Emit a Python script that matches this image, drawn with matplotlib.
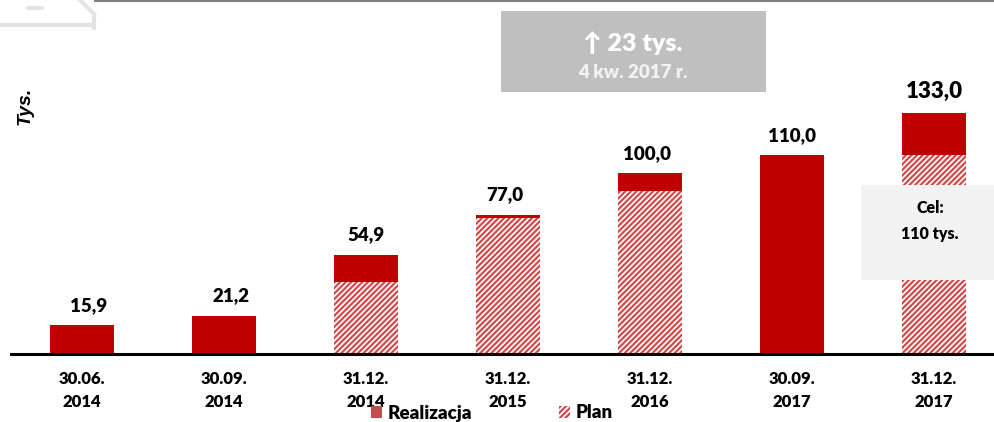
import matplotlib
matplotlib.use('Agg')
import matplotlib.pyplot as plt
from matplotlib.patches import Patch, Rectangle
from matplotlib.lines import Line2D

plt.rcParams['font.family'] = ['Lato', 'DejaVu Sans']
plt.rcParams['hatch.linewidth'] = 1.6

# data
dates = ['30.06.\n2014', '30.09.\n2014', '31.12.\n2014', '31.12.\n2015',
         '31.12.\n2016', '30.09.\n2017', '31.12.\n2017']
totals = [15.9, 21.2, 54.9, 77.0, 100.0, 110.0, 133.0]
plan = [0, 0, 40, 75, 90, 0, 110]
realizacja = [t - p for t, p in zip(totals, plan)]
labels = ['15,9', '21,2', '54,9', '77,0', '100,0', '110,0', '133,0']

red = '#C00000'
hatch_col = '#D24A4A'
BW = 'heavy'  # heavier weight, closer to the original look

fig = plt.figure(figsize=(9.95, 4.22), dpi=100)
W, H = 995, 422
ax = fig.add_axes([11 / W, 68 / H, 994 / W, 271.4 / H])

x = list(range(len(dates)))
ax.bar(x, plan, width=0.45, color='white', edgecolor=hatch_col, hatch='//////', linewidth=0)
ax.bar(x, realizacja, width=0.45, bottom=plan, color=red, linewidth=0)

for i, (t, lab) in enumerate(zip(totals, labels)):
    fs = 16 if i == len(totals) - 1 else 13.5
    dx = 5 if i < 2 else (-2 if i in (3, 4) else 0)
    ax.annotate(lab, (i, t), xytext=(dx, 8), textcoords='offset points',
                ha='center', va='bottom', fontsize=fs, fontweight=BW)

ax.set_xlim(-0.5, 6.5)
ax.set_ylim(0, 150)
ax.set_xticks(x)
ax.set_xticklabels(dates, fontsize=12, fontweight=BW, linespacing=1.6)
ax.tick_params(axis='x', length=0, pad=12)
ax.set_yticks([])
for s in ['top', 'right', 'left']:
    ax.spines[s].set_visible(False)
ax.spines['bottom'].set_linewidth(2.2)
ax.spines['bottom'].set_color('black')

# y label
fig.text(25 / W, 1 - 106 / H, 'Tys.', rotation=90, fontsize=14, fontweight='bold',
         fontstyle='italic', ha='center', va='center', family=['Liberation Sans'])

# grey info box
fig.patches.append(Rectangle((501 / W, 1 - 92 / H), 265 / W, 81 / H, transform=fig.transFigure,
                             facecolor='#BFBFBF', edgecolor='none'))
fig.text(633 / W, 1 - 43 / H, '\u2191 23 tys.', fontsize=18, fontweight=BW, color='white',
         ha='center', va='center', family=['Lato', 'DejaVu Sans'])
fig.text(633 / W, 1 - 72 / H, '4 kw. 2017 r.', fontsize=13.5, fontweight=BW, color='#F2F2F2',
         ha='center', va='center')

# target box
fig.patches.append(Rectangle((861 / W, 1 - 280 / H), 134 / W, 95 / H, transform=fig.transFigure,
                             facecolor='#F2F2F2', edgecolor='none', zorder=5))
fig.text(930 / W, 1 - 221 / H, 'Cel:\n110 tys.', fontsize=11.5, fontweight=BW,
         ha='center', va='center', linespacing=1.7, zorder=6)

# top decoration
fig.add_artist(Line2D([95 / W, 1], [1 - 1 / H, 1 - 1 / H], color='#7F7F7F', lw=1.5))
fig.add_artist(Line2D([0, 90 / W], [1 - 25 / H, 1 - 25 / H], color='#E3E3E3', lw=3))
fig.add_artist(Line2D([80 / W, 94 / W], [1, 1 - 14 / H], color='#E3E3E3', lw=3))
fig.add_artist(Line2D([94 / W, 94 / W], [1 - 14 / H, 1 - 28 / H], color='#E3E3E3', lw=3))
fig.add_artist(Line2D([28 / W, 42 / W], [1 - 8 / H, 1 - 8 / H], color='#E3E3E3', lw=3,
                      solid_capstyle='round'))

# legend
handles = [Patch(facecolor='#C0504D', edgecolor='none', label='Realizacja'),
           Patch(facecolor='white', edgecolor=hatch_col, hatch='//////', linewidth=0, label='Plan')]
leg = fig.legend(handles=handles, loc='center left', bbox_to_anchor=(371 / W, 1 - 413 / H),
                 ncol=2, frameon=False, fontsize=13.5, handlelength=0.6, handleheight=0.6,
                 handletextpad=0.3, columnspacing=4.6, borderpad=0, borderaxespad=0)
for t in leg.get_texts():
    t.set_fontweight(BW)

fig.savefig('out.png', dpi=100)
